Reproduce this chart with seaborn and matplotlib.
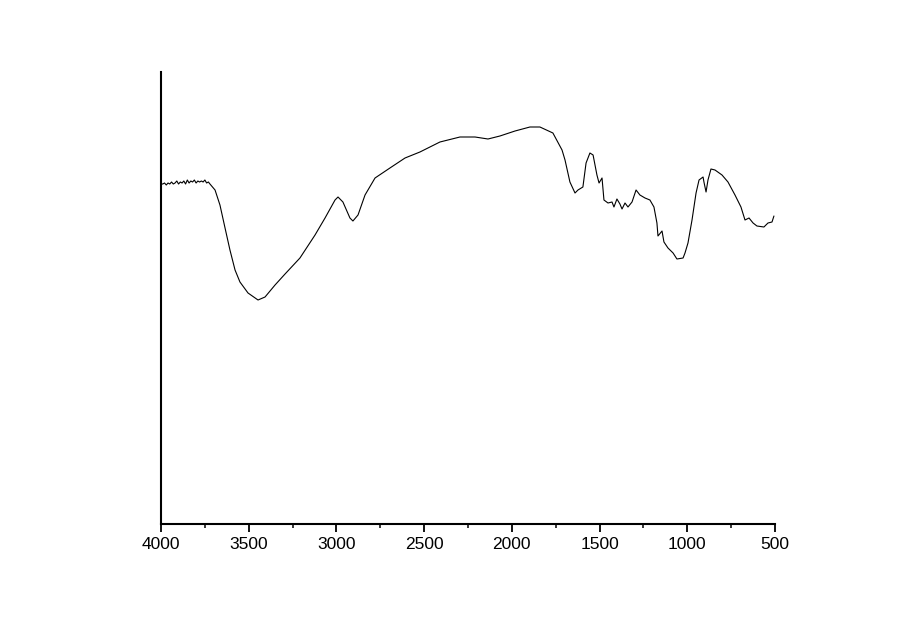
import matplotlib
matplotlib.use("Agg")
import matplotlib.pyplot as plt
import seaborn as sns
import pandas as pd
from matplotlib.ticker import MultipleLocator

sns.set_theme(style="white")
plt.rcParams['font.family'] = ['Liberation Sans', 'DejaVu Sans']

# wavenumber (cm-1) and transmittance (arbitrary units)
wavenumber = [4000, 3990, 3980, 3970, 3960, 3950, 3940, 3930, 3920, 3910, 3900, 3890,
              3880, 3870, 3860, 3850, 3840, 3830, 3820, 3810, 3800, 3790, 3780, 3770,
              3760, 3750, 3740, 3730, 3721, 3692, 3664, 3635, 3607, 3578, 3550, 3504,
              3447, 3407, 3350, 3293, 3208, 3122, 3065, 3008, 2991, 2963, 2923, 2906,
              2877, 2837, 2780, 2695, 2609, 2524, 2410, 2296, 2210, 2136, 2068, 1982,
              1897, 1840, 1766, 1714, 1697, 1669, 1640, 1623, 1595, 1577, 1555, 1537,
              1515, 1503, 1486, 1475, 1452, 1429, 1418, 1401, 1384, 1372, 1355, 1338,
              1315, 1292, 1270, 1241, 1213, 1190, 1173, 1167, 1144, 1133, 1110, 1081,
              1059, 1024, 1013, 996, 973, 950, 933, 910, 905, 893, 882, 865, 842, 802,
              768, 728, 694, 671, 648, 625, 603, 563, 540, 517, 506]
transmittance = [338, 338, 339, 337, 339, 338, 340, 338, 339, 341, 338, 340,
                 339, 341, 338, 342, 339, 341, 340, 342, 339, 341, 340, 341,
                 340, 342, 339, 340, 338, 332, 317, 294, 272, 252, 240, 229,
                 222, 225, 237, 248, 264, 287, 304, 322, 325, 320, 304, 301,
                 307, 327, 344, 354, 364, 370, 380, 385, 385, 383, 386, 391,
                 395, 395, 389, 372, 362, 340, 329, 332, 335, 359, 369, 367,
                 347, 339, 344, 322, 319, 320, 315, 323, 318, 313, 319, 315,
                 320, 332, 327, 324, 322, 315, 299, 286, 291, 280, 274, 269,
                 263, 264, 269, 279, 302, 329, 342, 345, 340, 330, 342, 353, 352, 347,
                 340, 327, 315, 302, 304, 299, 296, 295, 299, 300, 306]

df = pd.DataFrame({"wavenumber": wavenumber, "transmittance": transmittance})

fig = plt.figure(figsize=(9, 6.28), dpi=100)
ax = fig.add_axes([0.1789, (628 - 523.5) / 628, 0.8611 - 0.1789, (523.5 - 72) / 628])
sns.lineplot(data=df, x="wavenumber", y="transmittance", ax=ax,
             color="black", linewidth=0.8, sort=False)

ax.set_xlim(4000, 500)
ax.set_ylim(-1.5, 450)
ax.xaxis.set_major_locator(MultipleLocator(500))
ax.xaxis.set_minor_locator(MultipleLocator(250))
ax.set_yticks([])
ax.set_xlabel("")
ax.set_ylabel("")
for s in ["top", "right"]:
    ax.spines[s].set_visible(False)
for s in ["left", "bottom"]:
    ax.spines[s].set_color("black")
    ax.spines[s].set_linewidth(1.5)
ax.tick_params(axis="x", which="major", direction="out", length=6, width=1.3,
               color="black", labelsize=12.5, labelcolor="black", bottom=True, pad=4)
ax.tick_params(axis="x", which="minor", direction="out", length=3.2, width=1.1,
               color="black", bottom=True)

fig.savefig("out.png", dpi=100, facecolor="white")
